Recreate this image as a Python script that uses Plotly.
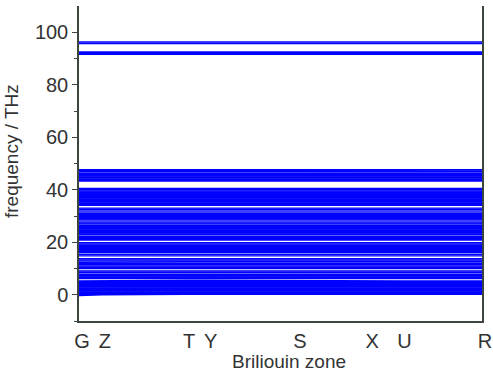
import plotly.graph_objects as go

# High-symmetry path
kpoint_labels = ["G", "Z", "T", "Y", "S", "X", "U", "R"]
kpoint_pos = [0.0, 0.057, 0.266, 0.319, 0.541, 0.720, 0.800, 1.0]

# Flat phonon branches (THz)
flat_bands = [
    96.3, 95.7,
    92.5, 92.2, 91.9, 91.6,
    47.6, 47.0,
    46.4, 46.1, 45.8, 45.5, 45.2, 44.9, 44.6,
    44.1, 43.9, 43.6, 43.3,
    40.5, 40.0,
    39.5, 39.2, 38.9, 38.6, 38.3, 38.0, 37.7, 37.4, 37.1, 36.8, 36.5, 36.2,
    35.9, 35.6, 35.3, 35.0, 34.7, 34.4, 34.1,
    33.0, 32.6, 31.9,
    31.2, 30.9, 30.6, 30.3, 30.0, 29.7, 29.4, 29.1, 28.8, 28.5,
    27.7, 27.3, 27.0, 26.5,
    26.2, 25.9, 25.6, 25.3, 25.0, 24.7, 24.4, 24.1, 23.8, 23.5, 23.2, 22.9,
    22.3, 22.0, 21.7, 21.4, 21.1, 20.8,
    19.8, 19.4,
    19.0, 18.7, 18.4, 18.1, 17.8, 17.5, 17.2, 16.9, 16.6, 16.3,
    16.0, 15.3, 14.8,
    13.7, 13.3, 12.9,
    12.0, 11.5,
    11.0, 10.6, 10.3, 10.0,
    9.1, 8.7, 8.4, 7.7,
    7.4, 7.1, 6.8, 6.5, 6.2,
    5.0, 4.7, 4.4, 4.1, 3.8, 3.5, 3.2, 2.9, 2.6, 2.3, 2.0, 1.7, 1.4, 1.1, 0.8, 0.5, 0.2,
]

# Weakly dispersive branches: values at each high-symmetry point
dispersive_bands = [
    [-0.3, 0.0, 0.2, 0.3, 0.3, 0.3, 0.3, 0.3],
    [5.3, 5.4, 5.5, 5.5, 5.3, 5.3, 5.3, 5.3],
    [47.4, 47.4, 47.3, 47.3, 47.2, 47.2, 47.2, 47.2],
    [12.4, 12.5, 12.6, 12.6, 12.6, 12.6, 12.6, 12.6],
    [29.9, 29.9, 29.9, 29.9, 30.0, 30.2, 30.0, 29.9],
]

x_title = "Briliouin zone"
y_title = "frequency / THz"

xs, ys = [], []
for f in flat_bands:
    xs += [kpoint_pos[0], kpoint_pos[-1], None]
    ys += [f, f, None]
for band in dispersive_bands:
    xs += list(kpoint_pos) + [None]
    ys += list(band) + [None]

fig = go.Figure()
fig.add_trace(go.Scatter(
    x=xs, y=ys, mode="lines",
    line=dict(color="#0000ff", width=1.4),
    hoverinfo="skip", showlegend=False,
))

axis_color = "#3c463c"
text_color = "#333333"
font_family = "Liberation Sans, Arial, sans-serif"

fig.update_layout(
    width=493, height=371,
    margin=dict(l=79, r=11, t=6, b=50),
    paper_bgcolor="white", plot_bgcolor="white",
    font=dict(family=font_family, color=text_color, size=19),
    xaxis=dict(
        range=[0, 1], automargin=False,
        tickmode="array", tickvals=kpoint_pos, ticktext=kpoint_labels,
        showgrid=False, zeroline=False,
        showline=True, linecolor=axis_color, linewidth=1.5,
        ticks="", ticklabelstandoff=1, ticklabelshift=3,
        tickfont=dict(size=20, color=text_color),
    ),
    yaxis=dict(
        range=[-10, 110], automargin=False,
        tickmode="array", tickvals=[0, 20, 40, 60, 80, 100],
        showgrid=False, zeroline=False,
        showline=True, mirror=True, linecolor=axis_color, linewidth=1.5,
        ticks="outside", ticklen=5, tickwidth=1.2, tickcolor=axis_color,
        minor=dict(tickvals=[-10, 10, 30, 50, 70, 90], ticks="outside",
                   ticklen=3, tickwidth=1.2, tickcolor=axis_color),
        tickfont=dict(size=20, color=text_color),
    ),
    annotations=[
        dict(text=x_title, xref="paper", yref="paper", x=0.52, y=-0.13,
             xanchor="center", yanchor="middle", showarrow=False,
             font=dict(size=19, color=text_color)),
        dict(text=y_title, xref="paper", yref="paper", x=-0.166, y=0.54,
             xanchor="center", yanchor="middle", textangle=-90, showarrow=False,
             font=dict(size=19, color=text_color)),
    ],
)

fig.write_html(
    "out.html",
    config={"displayModeBar": False},
    post_script="document.body.style.margin='0';document.body.style.overflow='hidden';",
)
